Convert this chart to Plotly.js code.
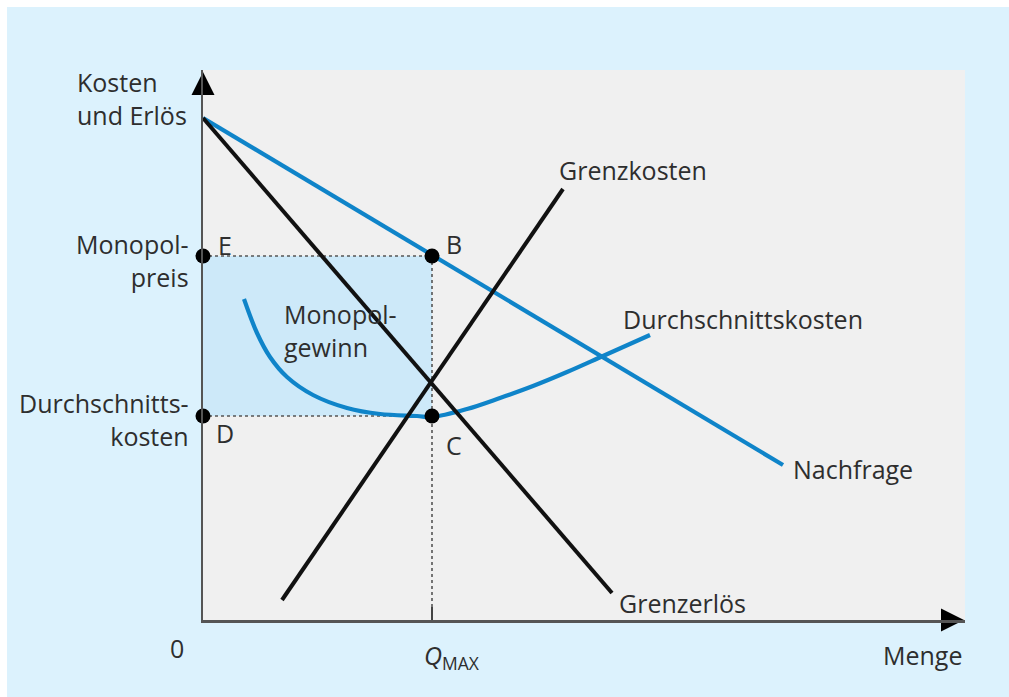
<!DOCTYPE html>
<html>
<head>
<meta charset="utf-8">
<script src="https://cdn.plot.ly/plotly-3.0.1.min.js"></script>
<style>
  html, body { margin: 0; padding: 0; background: #ffffff; }
  #chart { position: absolute; left: 7px; top: 7px; width: 1002px; height: 690px; }
</style>
</head>
<body>
<div id="chart"></div>
<script>
// ---- data (quantity x, cost/revenue y) ----
const demandX = [0, 58.0];
const demandY = [50.2, 15.5];
const mrX = [0, 40.9];
const mrY = [50.2, 2.7];
const mcX = [7.9, 36.0];
const mcY = [2.0, 43.1];
const acX = [4.1, 5.4, 6.7, 8.4, 11.0, 14.4, 17.7, 21.4, 22.9, 26.4, 29.7, 33.0, 36.4, 40.0, 44.7];
const acY = [32.1, 28.7, 26.3, 24.3, 22.5, 21.2, 20.6, 20.4, 20.3, 21.1, 22.2, 23.4, 24.8, 26.4, 28.5];
const qMax = 22.9;
const monopolyPrice = 36.4;
const avgCost = 20.4;
const pointLabels = ["E", "B", "D", "C"];
const pointX = [0, qMax, 0, qMax];
const pointY = [monopolyPrice, monopolyPrice, avgCost, avgCost];
const xMax = 76.2;
const yMax = 55.0;

const FONT = "Open Sans, sans-serif";
const TXT = "#2e2e2e";
const BLUE = "#0f84c9";
const BLACK = "#111111";
const DOT = "#555555";

const traces = [
  { // Monopolgewinn rectangle
    x: [0, qMax, qMax, 0, 0], y: [avgCost, avgCost, monopolyPrice, monopolyPrice, avgCost],
    mode: "lines", fill: "toself", fillcolor: "#cde9f9", line: { width: 0 }, hoverinfo: "skip"
  },
  { x: [0, qMax], y: [monopolyPrice, monopolyPrice], mode: "lines",
    line: { color: DOT, width: 1.6, dash: "dot" } },
  { x: [0, qMax], y: [avgCost, avgCost], mode: "lines",
    line: { color: DOT, width: 1.6, dash: "dot" } },
  { x: [qMax, qMax], y: [monopolyPrice, 0], mode: "lines",
    line: { color: DOT, width: 1.6, dash: "dot" } },
  { x: demandX, y: demandY, mode: "lines", line: { color: BLUE, width: 4.2 } },
  { x: acX, y: acY, mode: "lines", line: { color: BLUE, width: 4.2, shape: "spline", smoothing: 1 } },
  { x: mrX, y: mrY, mode: "lines", line: { color: BLACK, width: 4 } },
  { x: mcX, y: mcY, mode: "lines", line: { color: BLACK, width: 4 } },
  { x: pointX, y: pointY, mode: "markers", cliponaxis: false,
    marker: { color: "#000000", size: 15 } },
  // axis arrowheads
  { x: [0], y: [54.8], mode: "markers", cliponaxis: false,
    marker: { symbol: "arrow-up", size: 23, color: "#000000" } },
  { x: [76.1], y: [0], mode: "markers", cliponaxis: false,
    marker: { symbol: "arrow-right", size: 23, color: "#000000" } }
];

// text annotations positioned in paper fractions derived from data units
function ann(text, x, y, xanchor) {
  return {
    text: text, x: x / xMax, y: y / yMax, xref: "paper", yref: "paper",
    xanchor: xanchor, yanchor: "middle", showarrow: false,
    align: xanchor === "right" ? "right" : "left",
    font: { family: FONT, size: 25, color: TXT }
  };
}

const annotations = [
  ann("Kosten<br>und Erlös", -12.8, 52.2, "left"),
  ann("Monopol-<br>preis", -1.2, 36.0, "right"),
  ann("Durchschnitts-<br>kosten", -1.2, 20.1, "right"),
  ann(pointLabels[0], pointX[0] + 1.3, pointY[0] + 1.1, "left"),
  ann(pointLabels[1], pointX[1] + 1.2, pointY[1] + 1.2, "left"),
  ann(pointLabels[2], pointX[2] + 1.1, pointY[2] - 1.7, "left"),
  ann(pointLabels[3], pointX[3] + 1.2, pointY[3] - 2.9, "left"),
  ann("Monopol-<br>gewinn", 7.9, 29.0, "left"),
  ann("Grenzkosten", 35.4, 45.0, "left"),
  ann("Durchschnittskosten", 41.8, 30.1, "left"),
  ann("Nachfrage", 58.8, 15.1, "left"),
  ann("Grenzerlös", 41.4, 1.7, "left"),
  ann("Menge", 76.1, -3.5, "right"),
  ann("0", -2.6, -2.8, "center"),
  ann("<i>Q</i><sub>MAX</sub>", 21.9, -3.6, "left")
];

const layout = {
  width: 1002, height: 690,
  margin: { l: 196, r: 44, t: 63, b: 77 },
  paper_bgcolor: "#dcf2fd",
  plot_bgcolor: "#f0f0f0",
  showlegend: false,
  xaxis: {
    range: [0, xMax], showgrid: false, zeroline: false,
    showline: true, linecolor: "#555555", linewidth: 2.5,
    tickvals: [qMax], ticks: "inside", ticklen: 13, tickwidth: 1.5, tickcolor: "#444444",
    showticklabels: false, fixedrange: true
  },
  yaxis: {
    range: [0, yMax], showgrid: false, zeroline: false,
    showline: true, linecolor: "#555555", linewidth: 2.5,
    showticklabels: false, ticks: "", fixedrange: true
  },
  annotations: annotations,
  font: { family: FONT, color: TXT }
};

Plotly.newPlot("chart", traces, layout, { displayModeBar: false, staticPlot: true });
</script>
</body>
</html>
